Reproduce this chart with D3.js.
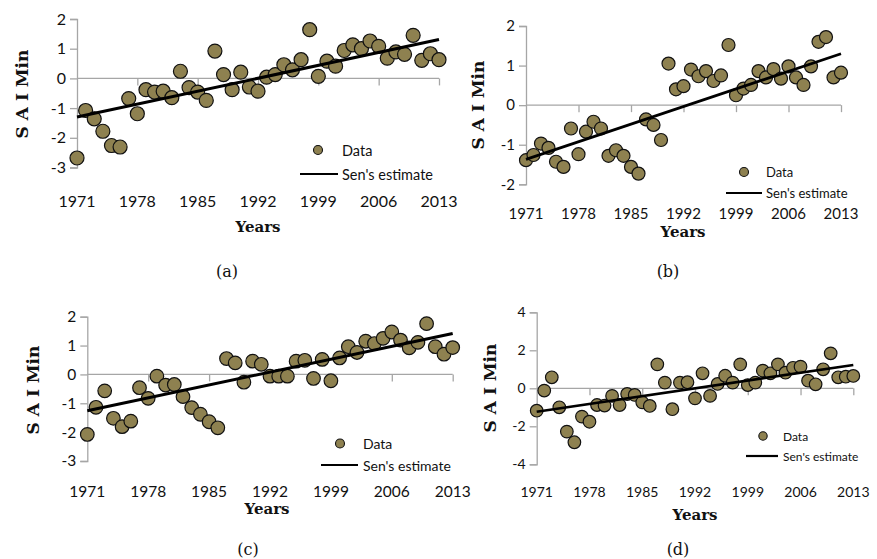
<!DOCTYPE html>
<html>
<head>
<meta charset="utf-8">
<script src="https://cdnjs.cloudflare.com/ajax/libs/d3/7.8.5/d3.min.js"></script>
<style>
  body { margin: 0; background: #fff; }
  svg { display: block; }
  .tick-lab { font-family: Lato, "Open Sans", sans-serif; fill: #111; }
  .ser { font-family: "DejaVu Serif", "Liberation Serif", serif; fill: #111; }
</style>
</head>
<body>
<svg id="chart" width="877" height="559"></svg>
<script>
// years 1971-2013
var years = [1971,1972,1973,1974,1975,1976,1977,1978,1979,1980,1981,1982,1983,1984,1985,
  1986,1987,1988,1989,1990,1991,1992,1993,1994,1995,1996,1997,1998,1999,2000,
  2001,2002,2003,2004,2005,2006,2007,2008,2009,2010,2011,2012,2013];
var xTickYears = [1971, 1978, 1985, 1992, 1999, 2006, 2013];

var saiA = [-2.68,-1.08,-1.36,-1.78,-2.26,-2.31,-0.68,-1.19,-0.38,-0.46,-0.43,-0.65,0.24,-0.31,-0.46,
  -0.74,0.92,0.13,-0.38,0.21,-0.29,-0.43,0.04,0.13,0.46,0.29,0.63,1.64,0.07,0.58,
  0.41,0.94,1.13,1.0,1.26,1.08,0.68,0.89,0.81,1.45,0.61,0.83,0.63];
var saiB = [-1.39,-1.26,-0.97,-1.08,-1.43,-1.56,-0.59,-1.24,-0.67,-0.42,-0.59,-1.28,-1.14,-1.28,-1.56,
  -1.73,-0.36,-0.5,-0.88,1.05,0.40,0.48,0.9,0.73,0.86,0.61,0.75,1.52,0.25,0.42,
  0.51,0.86,0.70,0.91,0.67,0.98,0.70,0.51,0.98,1.6,1.72,0.70,0.82];
var saiC = [-2.08,-1.14,-0.57,-1.52,-1.81,-1.62,-0.46,-0.83,-0.06,-0.37,-0.35,-0.77,-1.15,-1.38,-1.64,
  -1.85,0.55,0.40,-0.27,0.46,0.35,-0.06,-0.06,-0.06,0.46,0.49,-0.14,0.52,-0.22,0.57,
  0.96,0.76,1.15,1.07,1.25,1.47,1.19,0.92,1.11,1.76,0.96,0.70,0.93];
var saiD = [-1.18,-0.12,0.58,-1.0,-2.28,-2.84,-1.49,-1.76,-0.88,-0.91,-0.40,-0.88,-0.30,-0.35,-0.74,
  -0.93,1.26,0.30,-1.1,0.30,0.32,-0.53,0.79,-0.40,0.23,0.66,0.30,1.26,0.17,0.30,
  0.93,0.79,1.26,0.82,1.08,1.14,0.40,0.21,1.0,1.84,0.58,0.61,0.65];

// Sen's estimate line, value at 1971 and at 2013
var senA = [-1.30, 1.31];
var senB = [-1.37, 1.30];
var senC = [-1.26, 1.42];
var senD = [-1.23, 1.23];

var yTicksA = [-3, -2, -1, 0, 1, 2];
var yTicksB = [-2, -1, 0, 1, 2];
var yTicksC = [-3, -2, -1, 0, 1, 2];
var yTicksD = [-4, -2, 0, 2, 4];

var svg = d3.select('#chart');
var axisGrey = '#a6a6a6';
var dotFill = '#8e8150';

var panels = [
  {values: saiA, sen: senA, yTicks: yTicksA, tag: '(a)',
   x0: 77, x1: 439, yTop: 19, yBot: 167.5, r: 7, fs: 16, tickLabY: 200,
   yLab: [22, 94], xLab: [258, 227], tagPos: [227, 271],
   leg: {dot: [318, 150], lx: [300, 338], ly: 174, tx: 342, fs: 14.5, r: 4.5}, lw: 3},
  {values: saiB, sen: senB, yTicks: yTicksB, tag: '(b)',
   x0: 526, x1: 841, yTop: 26, yBot: 184.3, r: 6.5, fs: 15, tickLabY: 213,
   yLab: [478, 105], xLab: [683, 232], tagPos: [668, 271],
   leg: {dot: [744, 172], lx: [726, 762], ly: 193, tx: 766, fs: 13, r: 4.5}, lw: 2.8},
  {values: saiC, sen: senC, yTicks: yTicksC, tag: '(c)',
   x0: 87.3, x1: 452.7, yTop: 316.7, yBot: 461, r: 6.8, fs: 15.5, tickLabY: 491,
   yLab: [33, 390], xLab: [267, 509], tagPos: [248, 549],
   leg: {dot: [340, 443.5], lx: [321, 358], ly: 465, tx: 363, fs: 14, r: 4.5}, lw: 3},
  {values: saiD, sen: senD, yTicks: yTicksD, tag: '(d)',
   x0: 536.7, x1: 853.3, yTop: 312.3, yBot: 464.3, r: 6.3, fs: 14, tickLabY: 491,
   yLab: [490, 388], xLab: [695, 515], tagPos: [678, 549],
   leg: {dot: [763, 436], lx: [746, 778], ly: 456, tx: 783, fs: 12, r: 4.2}, lw: 2.6}
];

panels.forEach(drawPanel);

function drawPanel(p) {
  var g = svg.append('g');
  var x = d3.scaleLinear().domain([1971, 2013]).range([p.x0, p.x1]);
  var yMin = d3.min(p.yTicks), yMax = d3.max(p.yTicks);
  var y = d3.scaleLinear().domain([yMin, yMax]).range([p.yBot, p.yTop]);

  // y axis
  var yAxis = d3.axisLeft(y).tickValues(p.yTicks).tickSize(7).tickFormat(function(d) {
    return d < 0 ? '-' + Math.abs(d) : d;
  });
  var ya = g.append('g').attr('transform', 'translate(' + p.x0 + ',0)').call(yAxis);
  ya.select('.domain').attr('stroke', axisGrey).attr('stroke-width', 1.3);
  ya.selectAll('.tick line').attr('stroke', axisGrey).attr('stroke-width', 1.3);
  ya.selectAll('.tick text').attr('class', 'tick-lab').attr('x', -11)
    .style('font-size', p.fs + 'px').attr('fill', '#111');

  // x axis at zero, labels pushed to the bottom
  var xAxis = d3.axisBottom(x).tickValues(xTickYears).tickSize(7).tickFormat('');
  var xa = g.append('g').attr('transform', 'translate(0,' + y(0) + ')').call(xAxis);
  xa.select('.domain').attr('stroke', axisGrey).attr('stroke-width', 1.3)
    .attr('d', 'M' + p.x0 + ',0H' + p.x1);
  xa.selectAll('.tick line').attr('stroke', axisGrey).attr('stroke-width', 1.3);
  xa.selectAll('.tick').filter(function(d) { return d === 1971; }).remove();

  g.selectAll('.xlab').data(xTickYears).enter().append('text')
    .attr('class', 'tick-lab')
    .attr('x', function(d) { return x(d); })
    .attr('y', p.tickLabY)
    .attr('text-anchor', 'middle')
    .attr('dominant-baseline', 'central')
    .style('font-size', p.fs + 'px')
    .text(function(d) { return d; });

  // points
  g.selectAll('.dot').data(p.values).enter().append('circle')
    .attr('cx', function(d, i) { return x(years[i]); })
    .attr('cy', function(d) { return y(d); })
    .attr('r', p.r)
    .attr('fill', dotFill)
    .attr('stroke', '#111')
    .attr('stroke-width', 1.2);

  // Sen's estimate
  var line = d3.line().x(function(d) { return x(d[0]); }).y(function(d) { return y(d[1]); });
  g.append('path')
    .datum([[1971, p.sen[0]], [2013, p.sen[1]]])
    .attr('d', line)
    .attr('stroke', '#000')
    .attr('stroke-width', p.lw)
    .attr('fill', 'none');

  // legend
  var L = p.leg;
  g.append('circle').attr('cx', L.dot[0]).attr('cy', L.dot[1]).attr('r', L.r)
    .attr('fill', dotFill).attr('stroke', '#111').attr('stroke-width', 1.1);
  g.append('text').attr('class', 'tick-lab').attr('x', L.tx).attr('y', L.dot[1])
    .attr('dominant-baseline', 'central').style('font-size', L.fs + 'px').text('Data');
  g.append('line').attr('x1', L.lx[0]).attr('x2', L.lx[1]).attr('y1', L.ly).attr('y2', L.ly)
    .attr('stroke', '#000').attr('stroke-width', 2.2);
  g.append('text').attr('class', 'tick-lab').attr('x', L.tx).attr('y', L.ly)
    .attr('dominant-baseline', 'central').style('font-size', L.fs + 'px').text("Sen's estimate");

  // axis titles
  g.append('text').attr('class', 'ser')
    .attr('transform', 'translate(' + p.yLab[0] + ',' + p.yLab[1] + ') rotate(-90)')
    .attr('text-anchor', 'middle').attr('dominant-baseline', 'central')
    .style('font-size', '17px').style('font-weight', 'bold').text('S A I Min');
  g.append('text').attr('class', 'ser')
    .attr('x', p.xLab[0]).attr('y', p.xLab[1])
    .attr('text-anchor', 'middle').attr('dominant-baseline', 'central')
    .style('font-size', '15px').style('font-weight', 'bold').text('Years');

  g.append('text').attr('class', 'ser')
    .attr('x', p.tagPos[0]).attr('y', p.tagPos[1])
    .attr('text-anchor', 'middle').attr('dominant-baseline', 'central')
    .style('font-size', '16px').text(p.tag);
}
</script>
</body>
</html>
